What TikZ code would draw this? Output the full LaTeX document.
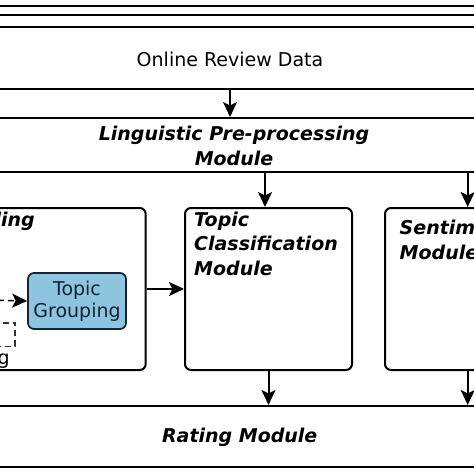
\documentclass[tikz,border=0pt]{standalone}
\usepackage{fontspec}
\setmainfont{DejaVu Sans}
\usetikzlibrary{arrows.meta}
\definecolor{tgfill}{RGB}{141,196,222}
\definecolor{tgline}{RGB}{20,35,55}
\tikzset{
  ln/.style={line width=2pt, draw=black},
  band/.style={ln, rectangle, minimum width=520pt, inner sep=0pt},
  modbox/.style={ln, rectangle, rounded corners=6pt, inner sep=0pt},
  arr/.style={ln, -{Stealth[length=15pt,width=14pt,inset=3.5pt]}},
  hd/.style={font=\fontsize{19}{24.5}\selectfont\bfseries\itshape, inner sep=0pt, align=left},
  hdc/.style={hd, align=center},
  tx/.style={font=\fontsize{19}{22}\selectfont, inner sep=0pt, align=center},
  tgbox/.style={line width=1.7pt, draw=tgline, fill=tgfill, rounded corners=6pt, inner sep=0pt, minimum width=98pt, minimum height=56pt, text=tgline},
  dbox/.style={line width=1.5pt, draw=black!80, dash pattern=on 6pt off 4pt, inner sep=0pt}
}
\begin{document}
\begin{tikzpicture}[x=1pt,y=-1pt]
\useasboundingbox (0,0) rectangle (474,474);
\clip (0,0) rectangle (474,474);
\fill[white] (0,0) rectangle (474,474);
% top lines
\draw[ln] (-10,6) -- (484,6);
\draw[ln] (-10,15) -- (484,15);
% bands
\node[band, minimum height=62pt] (ord) at (237,58) {};
\node[tx] (ordt) at (230,59.5) {Online Review Data};
\node[band, minimum height=54pt] (lpp) at (237,145) {};
\node[hdc] (lppt) at (234,146) {Linguistic Pre-processing\\Module};
\node[band, minimum height=61pt] (rat) at (237,436.5) {};
\node[hd] (ratt) at (239.7,437) {Rating Module};
% module boxes
\node[modbox, minimum width=260pt, minimum height=162pt] (lm) at (15.7,289) {};
\node[modbox, minimum width=167pt, minimum height=162pt] (tc) at (268.5,289) {};
\node[modbox, minimum width=175pt, minimum height=162pt] (sm) at (472.5,289) {};
\node[hd, anchor=base east] (lmt) at (35,226.7) {ling};
\node[hd, anchor=north west] (tct) at (194,211.5) {Topic\\Classification\\Module};
\node[hd, anchor=north west] (smt) at (399.5,220) {Sentim\\Module};
% inner nodes
\node[tgbox, tx] (tg) at (77,301) {Topic\\Grouping};
\node[dbox, minimum width=50pt, minimum height=23.5pt] (db) at (-10,334.5) {};
\node[tx, anchor=base west] (gt) at (-2.5,364) {g};
\coordinate (dstart) at (-12,300);
% arrows
\coordinate (a1) at ([xshift=-7pt]ord.south);
\draw[arr] (a1) -- (a1 |- lpp.north);
\coordinate (a2) at ([xshift=-3.5pt]tc.north);
\draw[arr] (lpp.south -| a2) -- (a2);
\coordinate (a3) at ([xshift=-4.8pt]sm.north);
\draw[arr] (lpp.south -| a3) -- (a3);
\draw[arr] (lm.east) -- (tc.west);
\draw[arr, dash pattern=on 6pt off 4pt, line width=1.5pt] (dstart) -- (tg.west);
\coordinate (b1) at (tc.south);
\draw[arr] (b1) -- (b1 |- rat.north);
\coordinate (b2) at ([xshift=-4.8pt]sm.south);
\draw[arr] (b2) -- (b2 |- rat.north);
\end{tikzpicture}
\end{document}
